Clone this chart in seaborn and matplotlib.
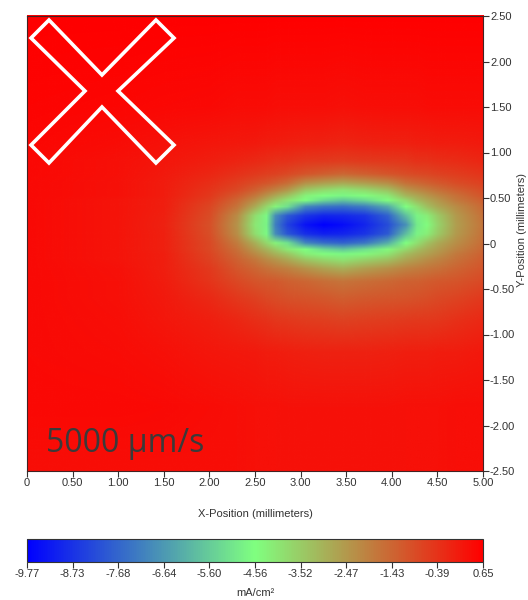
import numpy as np
import matplotlib
matplotlib.use("Agg")
import matplotlib.pyplot as plt
from matplotlib.colors import LinearSegmentedColormap, Normalize
from matplotlib.image import NonUniformImage
from matplotlib.patches import Polygon
import matplotlib.cm as cm
import seaborn as sns

# ---------------- data (mA/cm²) ----------------
x_nodes = [0.0, 1.0, 1.5, 2.0, 2.3, 2.5, 2.62, 2.72, 2.85, 3.05, 3.25, 3.46,
           3.7, 3.95, 4.15, 4.27, 4.38, 4.5, 4.7, 5.0]
y_nodes = [-2.5, -1.8, -1.2, -0.85, -0.6, -0.42, -0.28, -0.18, -0.12, -0.07, 0.0, 0.10,
           0.20, 0.30, 0.40, 0.47, 0.52, 0.58, 0.66, 0.76, 0.90, 1.1, 1.5, 2.5]

row_ym250 = [0.35, 0.35, 0.35, 0.34, 0.33, 0.32, 0.31, 0.3, 0.3, 0.3, 0.3, 0.3, 0.3, 0.3, 0.3, 0.3, 0.31, 0.32, 0.33, 0.35]
row_ym180 = [0.45, 0.45, 0.42, 0.38, 0.34, 0.31, 0.3, 0.29, 0.28, 0.27, 0.26, 0.26, 0.27, 0.28, 0.29, 0.3, 0.3, 0.31, 0.33, 0.35]
row_ym120 = [0.42, 0.39, 0.3, 0.19, 0.13, 0.09, 0.07, 0.05, 0.02, -0.02, -0.05, -0.08, -0.05, -0.03, 0.0, 0.01, 0.03, 0.05, 0.08, 0.13]
row_ym085 = [0.42, 0.34, 0.19, 0.03, -0.16, -0.3, -0.38, -0.45, -0.52, -0.58, -0.64, -0.7, -0.65, -0.6, -0.55, -0.53, -0.5, -0.45, -0.35, -0.2]
row_ym060 = [0.42, 0.3, 0.11, -0.22, -0.52, -0.72, -0.83, -0.93, -1.02, -1.1, -1.18, -1.27, -1.2, -1.12, -1.06, -1.02, -0.97, -0.89, -0.76, -0.57]
row_ym042 = [0.42, 0.29, 0.06, -0.42, -0.84, -1.07, -1.15, -1.22, -1.31, -1.46, -1.6, -1.75, -1.62, -1.48, -1.37, -1.31, -1.25, -1.18, -1.08, -0.86]
row_ym028 = [0.42, 0.26, 0.03, -0.57, -1.11, -1.45, -1.65, -1.81, -1.97, -2.35, -2.65, -2.9, -2.6, -2.3, -2.01, -1.89, -1.78, -1.64, -1.42, -1.08]
row_ym018 = [0.42, 0.24, 0.01, -0.7, -1.36, -1.82, -2.16, -2.44, -2.8, -3.4, -3.75, -4.0, -3.7, -3.3, -2.73, -2.49, -2.28, -2.04, -1.69, -1.26]
row_ym012 = [0.42, 0.23, 0.0, -0.77, -1.53, -2.16, -2.61, -2.98, -3.42, -4.2, -4.5, -4.7, -4.4, -4.0, -3.21, -2.87, -2.61, -2.34, -1.87, -1.37]
row_ym007 = [0.42, 0.22, -0.01, -0.83, -1.67, -2.49, -3.02, -3.5, -4.08, -4.6, -5.3, -5.7, -5.2, -4.4, -3.77, -3.25, -2.87, -2.56, -2.05, -1.46]
row_yp000 = [0.42, 0.22, -0.03, -0.89, -1.9, -2.96, -3.73, -4.3, -5.1, -7.0, -7.5, -7.7, -7.3, -6.2, -4.55, -3.93, -3.33, -2.83, -2.28, -1.57]
row_yp010 = [0.42, 0.21, -0.04, -0.95, -2.26, -3.9, -4.7, -6.9, -8.0, -8.8, -9.1, -9.0, -8.7, -7.9, -5.9, -4.8, -4.2, -3.5, -2.5, -1.68]
row_yp020 = [0.42, 0.21, -0.06, -0.98, -2.4, -4.1, -4.8, -7.2, -8.4, -9.4, -9.77, -9.5, -9.0, -8.2, -6.8, -5.0, -4.5, -3.7, -2.58, -1.72]
row_yp030 = [0.42, 0.21, -0.04, -0.92, -2.22, -3.9, -4.7, -6.9, -7.9, -8.7, -9.0, -8.95, -8.7, -7.8, -5.9, -4.8, -4.2, -3.5, -2.49, -1.66]
row_yp040 = [0.42, 0.22, 0.0, -0.78, -1.75, -2.89, -3.71, -4.32, -5.2, -7.0, -7.4, -7.5, -7.2, -6.3, -4.6, -3.93, -3.28, -2.79, -2.2, -1.48]
row_yp047 = [0.42, 0.23, 0.02, -0.64, -1.43, -2.28, -2.9, -3.43, -4.0, -4.6, -5.3, -5.7, -5.3, -4.5, -3.8, -3.16, -2.78, -2.44, -1.87, -1.27]
row_yp052 = [0.42, 0.25, 0.05, -0.53, -1.16, -1.8, -2.34, -2.79, -3.33, -4.3, -4.6, -4.75, -4.5, -4.1, -3.08, -2.73, -2.43, -2.11, -1.64, -1.08]
row_yp058 = [0.42, 0.26, 0.05, -0.43, -0.89, -1.38, -1.72, -2.04, -2.48, -3.5, -3.85, -4.1, -3.8, -3.3, -2.48, -2.19, -1.93, -1.69, -1.34, -0.9]
row_yp066 = [0.44, 0.26, 0.08, -0.31, -0.64, -0.9, -1.09, -1.29, -1.56, -2.3, -2.6, -2.8, -2.55, -2.2, -1.66, -1.49, -1.33, -1.16, -0.93, -0.69]
row_yp076 = [0.45, 0.3, 0.11, -0.15, -0.4, -0.56, -0.65, -0.72, -0.82, -1.1, -1.3, -1.45, -1.3, -1.1, -0.9, -0.83, -0.78, -0.71, -0.61, -0.44]
row_yp090 = [0.47, 0.32, 0.17, 0.02, -0.12, -0.22, -0.28, -0.33, -0.39, -0.49, -0.55, -0.6, -0.56, -0.51, -0.45, -0.4, -0.37, -0.32, -0.25, -0.15]
row_yp110 = [0.5, 0.38, 0.28, 0.19, 0.13, 0.09, 0.06, 0.04, 0.02, -0.02, -0.06, -0.1, -0.07, -0.03, -0.01, 0.01, 0.03, 0.04, 0.07, 0.12]
row_yp150 = [0.55, 0.5, 0.45, 0.42, 0.4, 0.38, 0.37, 0.36, 0.35, 0.34, 0.33, 0.32, 0.33, 0.34, 0.35, 0.36, 0.37, 0.38, 0.39, 0.4]
row_yp250 = [0.62, 0.62, 0.62, 0.62, 0.62, 0.62, 0.62, 0.62, 0.62, 0.62, 0.62, 0.62, 0.63, 0.63, 0.64, 0.64, 0.65, 0.65, 0.65, 0.65]

cbar_ticks = [-9.77, -8.73, -7.68, -6.64, -5.60, -4.56, -3.52, -2.47, -1.43, -0.39, 0.65]
x_ticks = [0, 0.5, 1.0, 1.5, 2.0, 2.5, 3.0, 3.5, 4.0, 4.5, 5.0]
y_ticks = [-2.5, -2.0, -1.5, -1.0, -0.5, 0, 0.5, 1.0, 1.5, 2.0, 2.5]
speed_label = "5000 µm/s"
x_title = "X-Position (millimeters)"
y_title = "Y-Position (millimeters)"
cbar_title = "mA/cm²"

# ---------------- figure ----------------
sns.set_theme(style="white")
plt.rcParams["font.family"] = ["Liberation Sans", "DejaVu Sans"]

Z = np.array([row_ym250, row_ym180, row_ym120, row_ym085, row_ym060, row_ym042,
              row_ym028, row_ym018, row_ym012, row_ym007, row_yp000, row_yp010,
              row_yp020, row_yp030, row_yp040, row_yp047, row_yp052, row_yp058,
              row_yp066, row_yp076, row_yp090, row_yp110, row_yp150, row_yp250])

cmap = LinearSegmentedColormap.from_list("bgr", ["#0000ff", "#80ff80", "#ff0000"])
norm = Normalize(vmin=cbar_ticks[0], vmax=cbar_ticks[-1])

W, H = 528, 600
fig = plt.figure(figsize=(W / 100, H / 100), dpi=100)
ax = fig.add_axes([27 / W, 1 - 471 / H, 456 / W, 455 / H])

im = NonUniformImage(ax, interpolation="bilinear", extent=(0, 5, -2.5, 2.5),
                     cmap=cmap, norm=norm)
im.set_data(np.array(x_nodes), np.array(y_nodes), Z)
ax.add_image(im)
ax.set_xlim(0, 5)
ax.set_ylim(-2.5, 2.5)


def fmt(v):
    return "0" if abs(v) < 1e-9 else f"{v:.2f}"


ax.set_xticks(x_ticks)
ax.set_xticklabels([fmt(v) for v in x_ticks])
ax.set_yticks(y_ticks)
ax.set_yticklabels([fmt(v) for v in y_ticks])
ax.yaxis.tick_right()
ax.tick_params(axis="both", which="both", direction="out", length=4, width=0.8,
               color="#333333", labelsize=8, labelcolor="#333333", pad=1)
ax.tick_params(axis="x", bottom=True)
ax.tick_params(axis="y", right=True, left=False)
for s in ax.spines.values():
    s.set_color("#442222")
    s.set_linewidth(0.8)

fig.text(255 / W, 1 - 514 / H, x_title, fontsize=8, color="#333333",
         ha="center", va="center")
fig.text(522 / W, 1 - 230 / H, y_title, fontsize=8, color="#333333",
         ha="center", va="center", rotation=90)

# X marker (white outline) in the top-left corner
x_shape = [(0.241, 2.456), (0.822, 1.852), (1.414, 2.456), (1.612, 2.258),
           (0.998, 1.676), (1.612, 1.082), (1.414, 0.885), (0.822, 1.500),
           (0.241, 0.885), (0.044, 1.082), (0.636, 1.676), (0.044, 2.258)]
ax.add_patch(Polygon(x_shape, closed=True, fill=False, edgecolor="white",
                     linewidth=2.6, joinstyle="miter", zorder=5))

ax.text(0.21, -2.29, speed_label, fontsize=23, color="#3a3a3a",
        family=["Open Sans", "DejaVu Sans"], ha="left", va="baseline", zorder=6)

# colorbar
cax = fig.add_axes([27 / W, 1 - 562 / H, 456 / W, 23 / H])
sm = cm.ScalarMappable(norm=norm, cmap=cmap)
cb = fig.colorbar(sm, cax=cax, orientation="horizontal", ticks=cbar_ticks)
cb.ax.set_xticklabels([f"{v:.2f}" for v in cbar_ticks])
cb.ax.tick_params(direction="out", length=4, width=0.8, color="#333333",
                  labelsize=8, labelcolor="#333333", pad=1)
cb.outline.set_edgecolor("#333333")
cb.outline.set_linewidth(0.8)
fig.text(255 / W, 1 - 593 / H, cbar_title, fontsize=8, color="#333333",
         ha="center", va="center")

fig.savefig("out.png", dpi=100)
